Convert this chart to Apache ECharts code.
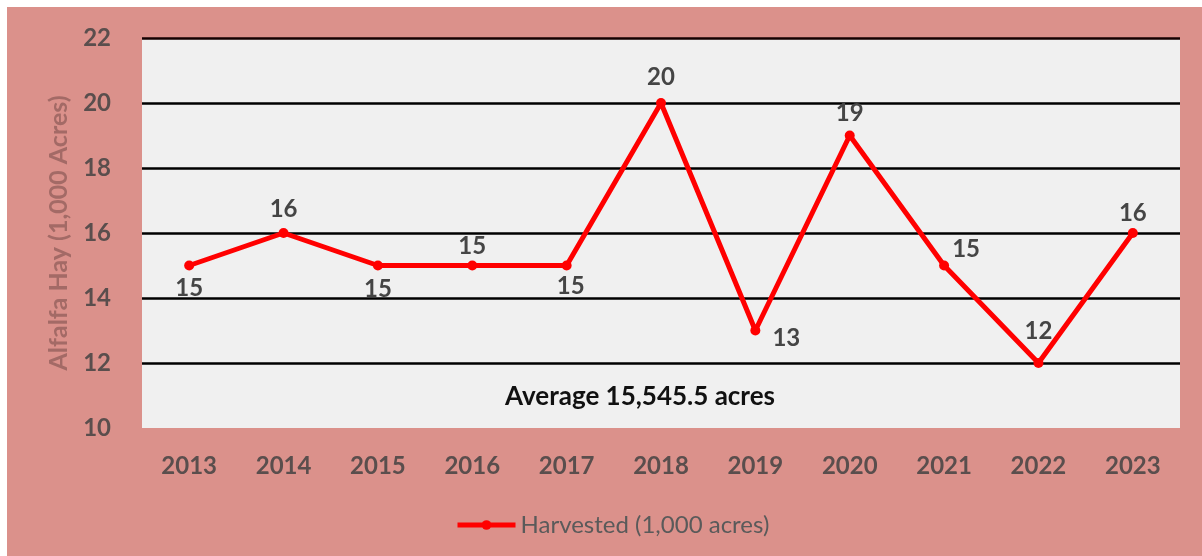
<!DOCTYPE html>
<html>
<head>
<meta charset="utf-8">
<script src="https://cdn.jsdelivr.net/npm/echarts@6/dist/echarts.min.js"></script>
<style>
  html, body { margin: 0; padding: 0; background: #ffffff; }
  #chart { position: absolute; left: 7px; top: 7px; width: 1195px; height: 549px; }
</style>
</head>
<body>
<div id="chart"></div>
<script>
// 年份
const years = ['2013', '2014', '2015', '2016', '2017', '2018', '2019', '2020', '2021', '2022', '2023'];
// 收获面积 (1,000 acres)
const harvested = [15, 16, 15, 15, 15, 20, 13, 19, 15, 12, 16];
const yTicks = [10, 12, 14, 16, 18, 20, 22];
const seriesName = 'Harvested (1,000 acres)';
const yName = 'Alfalfa Hay (1,000 Acres)';
const avgText = 'Average 15,545.5 acres';

// 数据标签相对点的偏移
const labelOffsets = [
  [0, 23], [0, -24], [0, 24], [0, -19], [4, 21], [0, -26],
  [31, 8], [0, -22], [22, -16], [0, -32], [0, -20]
];

const chart = echarts.init(document.getElementById('chart'));
const font = 'Lato, "Open Sans", sans-serif';

chart.setOption({
  backgroundColor: '#db918b',
  animation: false,
  grid: {
    left: 135,
    top: 31,
    right: 22,
    bottom: 128,
    show: true,
    backgroundColor: '#f0f0f0',
    borderWidth: 0
  },
  xAxis: {
    type: 'category',
    data: years,
    boundaryGap: true,
    axisLine: { show: false },
    axisTick: { show: false },
    axisLabel: {
      margin: 26,
      color: '#5a4e4d',
      fontFamily: font,
      fontWeight: 'bold',
      fontSize: 24
    }
  },
  yAxis: {
    type: 'value',
    min: yTicks[0],
    max: yTicks[yTicks.length - 1],
    interval: 2,
    name: yName,
    nameLocation: 'middle',
    nameGap: 71,
    nameRotate: 90,
    nameTextStyle: {
      color: '#a36a66',
      fontFamily: font,
      fontWeight: 'bold',
      fontSize: 25
    },
    axisLine: { show: false },
    axisTick: { show: false },
    axisLabel: {
      margin: 31,
      color: '#5a4e4d',
      fontFamily: font,
      fontWeight: 'bold',
      fontSize: 24
    },
    splitLine: {
      show: true,
      lineStyle: {
        color: ['transparent', '#000', '#000', '#000', '#000', '#000', '#150000'],
        width: 2.5
      }
    }
  },
  legend: {
    left: 443,
    top: 501,
    itemWidth: 58,
    itemHeight: 12,
    itemGap: 4,
    lineStyle: { width: 5 },
    textStyle: {
      color: '#5a5a5a',
      fontFamily: font,
      fontSize: 24
    },
    data: [seriesName]
  },
  graphic: [
    {
      type: 'text',
      x: 633,
      y: 390,
      style: {
        text: avgText,
        x: 0,
        y: 0,
        fill: '#111',
        font: 'bold 26px ' + font,
        textAlign: 'center',
        textVerticalAlign: 'middle'
      }
    }
  ],
  series: [
    {
      name: seriesName,
      type: 'line',
      data: harvested.map((v, i) => ({
        value: v,
        label: { offset: labelOffsets[i] }
      })),
      symbol: 'circle',
      symbolSize: 10,
      lineStyle: { color: '#ff0000', width: 5 },
      itemStyle: { color: '#ff0000' },
      label: {
        show: true,
        position: 'inside',
        color: '#454545',
        fontFamily: font,
        fontWeight: 'bold',
        fontSize: 24
      }
    }
  ]
});
</script>
</body>
</html>
